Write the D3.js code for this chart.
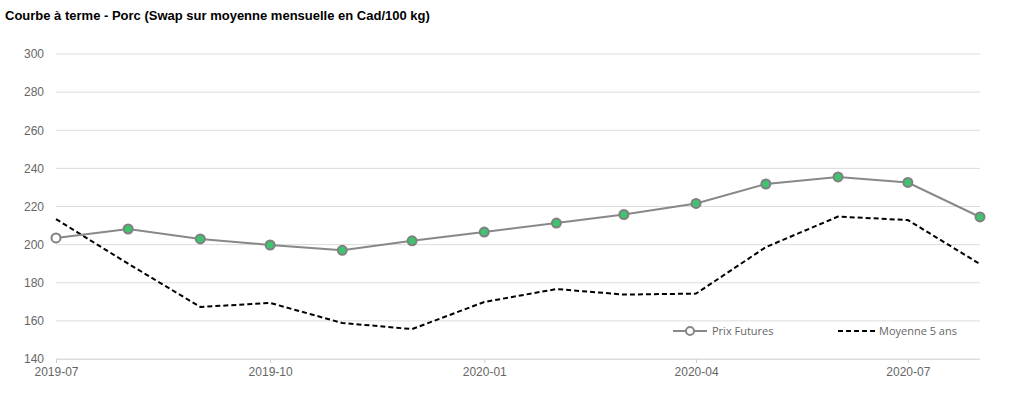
<!DOCTYPE html>
<html>
<head>
<meta charset="utf-8">
<script src="https://cdn.jsdelivr.net/npm/d3@7"></script>
<style>
  body { margin: 0; background: #fff; }
  svg { display: block; }
</style>
</head>
<body>
<div id="chart"></div>
<script>
// data
const months = ["2019-07","2019-08","2019-09","2019-10","2019-11","2019-12","2020-01","2020-02","2020-03","2020-04","2020-05","2020-06","2020-07","2020-08"];
const prixFutures = [203.5,208.2,203,199.8,197,202,206.6,211.3,215.8,221.6,231.8,235.5,232.6,214.5];
const moyenne5ans = [213.4,190,167.3,169.4,158.9,155.7,169.9,176.7,173.8,174.3,198.7,214.7,212.9,189.8];
const yTicks = [140,160,180,200,220,240,260,280,300];
const xTickMonths = ["2019-07","2019-10","2020-01","2020-04","2020-07"];

const W = 1024, H = 396;
const margin = { top: 54, right: 44, bottom: 37, left: 56 };
const width = W - margin.left - margin.right;
const height = H - margin.top - margin.bottom;

const parse = d3.timeParse("%Y-%m");
const fmt = d3.timeFormat("%Y-%m");
const dates = months.map(parse);

const svg = d3.select("#chart").append("svg").attr("width", W).attr("height", H);

svg.append("text").attr("x", 5).attr("y", 20)
  .attr("font-family", "Liberation Sans, Arial, sans-serif")
  .attr("font-size", 13).attr("font-weight", "bold").attr("fill", "#000")
  .text("Courbe à terme - Porc (Swap sur moyenne mensuelle en Cad/100 kg)");

const g = svg.append("g").attr("transform", "translate(" + margin.left + "," + margin.top + ")");

const x = d3.scaleTime().domain(d3.extent(dates)).range([0, width]);
const y = d3.scaleLinear().domain([140, 300]).range([height, 0]);

// grid
g.append("g").selectAll("line").data(yTicks).join("line")
  .attr("x1", 0).attr("x2", width)
  .attr("y1", d => y(d)).attr("y2", d => y(d))
  .attr("stroke", "#dcdcdc").attr("stroke-width", 1);

// y axis
const yAxis = g.append("g").call(d3.axisLeft(y).tickValues(yTicks).tickSize(0).tickPadding(12));
yAxis.select(".domain").remove();
yAxis.selectAll("text").attr("font-family", "Liberation Sans, Arial, sans-serif")
  .attr("font-size", 12).attr("fill", "#666");

// x axis
const xAxis = g.append("g").attr("transform", "translate(0," + height + ")")
  .call(d3.axisBottom(x).tickValues(xTickMonths.map(parse)).tickFormat(fmt).tickSizeInner(4).tickSizeOuter(0).tickPadding(4));
xAxis.select(".domain").attr("stroke", "#dcdcdc");
xAxis.selectAll(".tick line").attr("stroke", "#ccc");
xAxis.selectAll("text").attr("font-family", "Liberation Sans, Arial, sans-serif")
  .attr("font-size", 12).attr("fill", "#666");

const futData = dates.map((d, i) => ({ date: d, value: prixFutures[i] }));
const moyData = dates.map((d, i) => ({ date: d, value: moyenne5ans[i] }));
const line = d3.line().x(d => x(d.date)).y(d => y(d.value));

g.append("path").datum(moyData).attr("fill", "none").attr("stroke", "#000")
  .attr("stroke-width", 2).attr("stroke-dasharray", "5,3").attr("d", line);

g.append("path").datum(futData).attr("fill", "none").attr("stroke", "#888")
  .attr("stroke-width", 2).attr("d", line);

g.append("g").selectAll("circle").data(futData).join("circle")
  .attr("cx", d => x(d.date)).attr("cy", d => y(d.value)).attr("r", 4.5)
  .attr("fill", (d, i) => i === 0 ? "#fff" : "#3ec46f")
  .attr("stroke", "#808080").attr("stroke-width", 2);

// legend
const leg = svg.append("g").attr("font-family", "Open Sans, sans-serif").attr("font-size", 11).attr("fill", "#666");
leg.append("line").attr("x1", 673).attr("x2", 707).attr("y1", 331).attr("y2", 331).attr("stroke", "#888").attr("stroke-width", 2);
leg.append("circle").attr("cx", 690).attr("cy", 331).attr("r", 4).attr("fill", "#fff").attr("stroke", "#888").attr("stroke-width", 2);
leg.append("text").attr("x", 712).attr("y", 335).text("Prix Futures");
leg.append("line").attr("x1", 838).attr("x2", 876).attr("y1", 331).attr("y2", 331).attr("stroke", "#000").attr("stroke-width", 2).attr("stroke-dasharray", "5,3");
leg.append("text").attr("x", 879).attr("y", 335).text("Moyenne 5 ans");
</script>
</body>
</html>
